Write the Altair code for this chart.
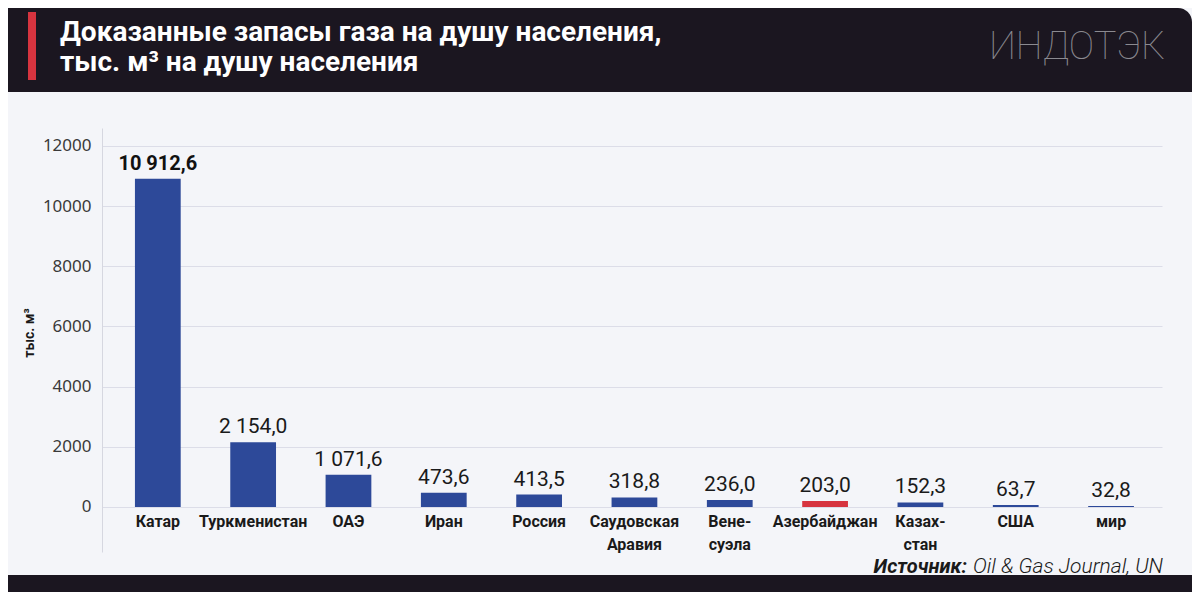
import altair as alt
import pandas as pd

categories = ["Катар", "Туркменистан", "ОАЭ", "Иран", "Россия", "Саудовская Аравия",
              "Венесуэла", "Азербайджан", "Казахстан", "США", "мир"]
cat_labels = ["Катар", "Туркменистан", "ОАЭ", "Иран", "Россия", "Саудовская\nАравия",
              "Вене-\nсуэла", "Азербайджан", "Казах-\nстан", "США", "мир"]
values = [10912.6, 2154.0, 1071.6, 473.6, 413.5, 318.8, 236.0, 203.0, 152.3, 63.7, 32.8]
highlight = ["Азербайджан"]
y_ticks = [0, 2000, 4000, 6000, 8000, 10000, 12000]

BLUE = "#2d4999"
RED = "#d7343f"
DARK = "#1b1620"


def fmt(v):
    return f"{v:,.1f}".replace(",", " ").replace(".", ",")


df = pd.DataFrame({
    "cat": categories,
    "label": cat_labels,
    "val": values,
    "vlabel": [fmt(v) for v in values],
    "col": [RED if c in highlight else BLUE for c in categories],
    "top": [i == 0 for i in range(len(categories))],
})

FONT = "Roboto"

x_enc = alt.X("cat:N", sort=categories,
              scale=alt.Scale(paddingInner=0.52, paddingOuter=0.32, align=0.54),
              axis=None)
y_scale = alt.Scale(domain=[-1496, 12598], nice=False, zero=False)

base = alt.Chart(df)

bars = base.mark_bar().encode(
    x=x_enc,
    y=alt.Y("val:Q", scale=y_scale, title=None,
            axis=alt.Axis(values=y_ticks, ticks=False, labelFontSize=17,
                          labelFont="Noto Sans", labelColor="#3a3a3a", labelPadding=11,
                          domainColor="#d6d7e0", gridColor="#dcdde8",
                          format="d")),
    y2=alt.datum(0),
    color=alt.Color("col:N", scale=None),
)

vals_other = base.transform_filter("!datum.top").mark_text(
    baseline="bottom", dy=-5, fontSize=21, font=FONT, color="#1a1a1a", fontWeight="normal"
).encode(x=x_enc, y=alt.Y("val:Q", scale=y_scale), text="vlabel:N")

vals_top = base.transform_filter("datum.top").mark_text(
    baseline="bottom", dy=-5, fontSize=20, font=FONT, color="#111111", fontWeight="bold"
).encode(x=x_enc, y=alt.Y("val:Q", scale=y_scale), text="vlabel:N")

cats = base.transform_calculate(zero="0").mark_text(
    baseline="top", dy=7, fontSize=16, font=FONT, fontWeight="bold",
    color="#1a1a1a", lineBreak="\n", lineHeight=23
).encode(x=x_enc, y=alt.Y("zero:Q", scale=y_scale), text="label:N")

one = alt.Data(values=[{}])

header = alt.Chart(one).mark_rect(color=DARK, cornerRadiusTopRight=14).encode(
    x=alt.value(-94), x2=alt.value(1090), y=alt.value(-120), y2=alt.value(-36))
footer = alt.Chart(one).mark_rect(color=DARK).encode(
    x=alt.value(-94), x2=alt.value(1090), y=alt.value(447), y2=alt.value(464))
stripe = alt.Chart(one).mark_rect(color=RED).encode(
    x=alt.value(-74), x2=alt.value(-66), y=alt.value(-116), y2=alt.value(-48))

title1 = alt.Chart(one).mark_text(
    align="left", baseline="alphabetic", fontSize=28, font=FONT, fontWeight="bold",
    color="white").encode(x=alt.value(-42), y=alt.value(-87),
                          text=alt.value("Доказанные запасы газа на душу населения,"))
title2 = alt.Chart(one).mark_text(
    align="left", baseline="alphabetic", fontSize=28, font=FONT, fontWeight="bold",
    color="white").encode(x=alt.value(-42), y=alt.value(-57),
                          text=alt.value("тыс. м³ на душу населения"))
logo = alt.Chart(one).mark_text(
    align="center", baseline="middle", fontSize=38, font=FONT, fontWeight=100,
    color="#8b8a90").encode(x=alt.value(975), y=alt.value(-80), text=alt.value("ИНДОТЭК"))

ytitle = alt.Chart(one).mark_text(
    align="center", baseline="middle", angle=270, fontSize=14, font=FONT,
    fontWeight="bold", color="#1a1a1a").encode(
    x=alt.value(-72), y=alt.value(205), text=alt.value("тыс. м³"))

src1 = alt.Chart(one).mark_text(
    align="right", baseline="middle", fontSize=20, font=FONT, fontWeight="bold",
    fontStyle="italic", color="#1a1a1a").encode(
    x=alt.value(865), y=alt.value(439), text=alt.value("Источник:"))
src2 = alt.Chart(one).mark_text(
    align="left", baseline="middle", fontSize=21, font=FONT, fontWeight=300,
    fontStyle="italic", color="#1a1a1a").encode(
    x=alt.value(871), y=alt.value(439), text=alt.value("Oil & Gas Journal, UN"))

chart = alt.layer(
    header, footer, stripe, title1, title2, logo, ytitle,
    bars, vals_other, vals_top, cats, src1, src2
).properties(
    width=1060, height=424,
    autosize=alt.AutoSizeParams(type="none"),
    padding={"left": 94, "top": 120, "right": 30, "bottom": 40},
    background="#f4f5f9",
).configure_view(strokeWidth=0)

chart.save("out.html", embed_options={"renderer": "svg", "actions": False})
